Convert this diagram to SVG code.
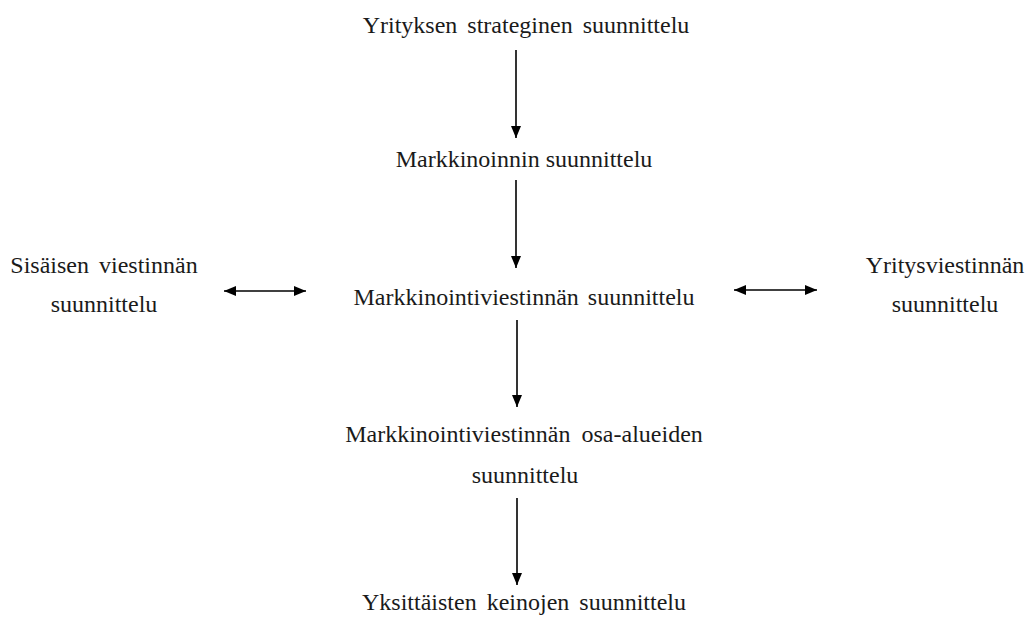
<svg xmlns="http://www.w3.org/2000/svg" width="1027" height="619" viewBox="0 0 1027 619">
<defs>
<style>
text{font-family:"Liberation Serif","DejaVu Serif",serif;font-size:24px;fill:#1a1a1a;text-anchor:middle}
.c{stroke:#000;stroke-width:1.6;fill:none}
</style>
<marker id="ah" viewBox="0 0 12 10" refX="12" refY="5" markerWidth="12" markerHeight="10" markerUnits="userSpaceOnUse" orient="auto-start-reverse">
<path d="M0,0 L12,5 L0,10 Z" fill="#000"/>
</marker>
</defs>
<rect width="1027" height="619" fill="#fff"/>
<g id="n1"><text x="526" y="33" word-spacing="4" font-family="Liberation Serif, serif">Yrityksen strateginen suunnittelu</text></g>
<g id="n2"><text x="524" y="167" font-family="Liberation Serif, serif">Markkinoinnin suunnittelu</text></g>
<g id="n3"><text x="524" y="305" word-spacing="3" font-family="Liberation Serif, serif">Markkinointiviestinnän suunnittelu</text></g>
<g id="n4"><text x="104" y="273" word-spacing="4" font-family="Liberation Serif, serif">Sisäisen viestinnän</text><text x="104" y="312" font-family="Liberation Serif, serif">suunnittelu</text></g>
<g id="n5"><text x="945" y="273" font-family="Liberation Serif, serif">Yritysviestinnän</text><text x="945" y="312" font-family="Liberation Serif, serif">suunnittelu</text></g>
<g id="n6"><text x="524" y="442" word-spacing="5" font-family="Liberation Serif, serif">Markkinointiviestinnän osa-alueiden</text><text x="525" y="483" font-family="Liberation Serif, serif">suunnittelu</text></g>
<g id="n7"><text x="524" y="610" word-spacing="4" font-family="Liberation Serif, serif">Yksittäisten keinojen suunnittelu</text></g>
<g id="connectors">
<line class="c" x1="516" y1="50" x2="516" y2="138" marker-end="url(#ah)"/>
<line class="c" x1="516" y1="180" x2="516" y2="268" marker-end="url(#ah)"/>
<line class="c" x1="517" y1="320" x2="517" y2="407" marker-end="url(#ah)"/>
<line class="c" x1="517" y1="498" x2="517" y2="585" marker-end="url(#ah)"/>
<line class="c" x1="224" y1="291" x2="306" y2="291" marker-start="url(#ah)" marker-end="url(#ah)"/>
<line class="c" x1="734" y1="290" x2="817" y2="290" marker-start="url(#ah)" marker-end="url(#ah)"/>
</g>
</svg>
